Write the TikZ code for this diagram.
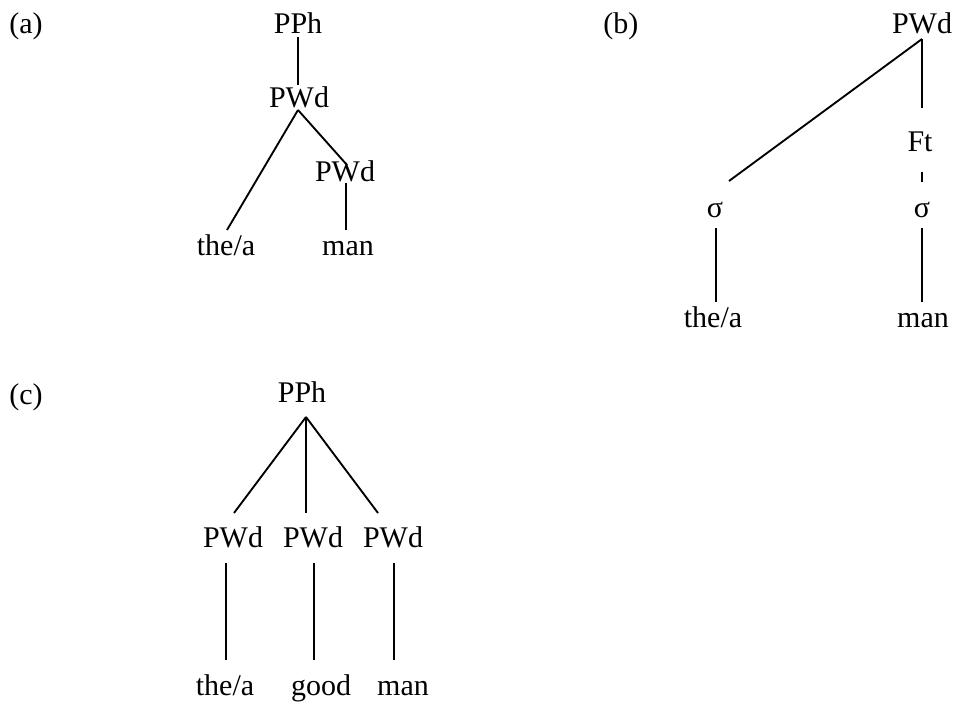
\documentclass[tikz,border=0pt]{standalone}
\usepackage{fontspec}
\setmainfont{Liberation Serif}
\usetikzlibrary{calc}
\begin{document}
\begin{tikzpicture}[x=0.75pt,y=-0.75pt,
  lbl/.style={inner sep=0pt,anchor=base,font=\fontsize{22.5}{27}\selectfont},
  tag/.style={lbl,anchor=base west},
  branch/.style={line width=1.4pt}]
\useasboundingbox (0,0) rectangle (955,702);

% ---- tree (a)
\node[tag] (labA) at (9,34) {(a)};
\node[lbl] (aPPh) at (298,34) {PPh};
\node[lbl] (aPW1) at (299,108) {PWd};
\node[lbl] (aPW2) at (345,182) {PWd};
\node[lbl] (aThe) at (226,255) {the/a};
\node[lbl] (aMan) at (348,255) {man};
\draw[branch] ($(aPPh.base)+(0,3)$) -- ($(aPW1.base)+(-1,-23)$);
\draw[branch] ($(aPW1.base)+(-1,2)$) -- ($(aThe.base)+(1,-25)$);
\draw[branch] ($(aPW1.base)+(-1,2)$) -- ($(aPW2.base)+(2,-17)$);
\draw[branch] ($(aPW2.base)+(1,1)$) -- ($(aMan.base)+(-2,-25)$);

% ---- tree (b)
\node[tag] (labB) at (603,34) {(b)};
\node[lbl] (bPWd) at (922,34) {PWd};
\node[lbl] (bFt) at (920,152) {Ft};
\node[lbl] (bS1) at (715,218) {σ};
\node[lbl] (bS2) at (922,218) {σ};
\node[lbl] (bThe) at (713,327) {the/a};
\node[lbl] (bMan) at (923,327) {man};
\draw[branch] ($(bPWd.base)+(0,5)$) -- ($(bS1.base)+(14,-37)$);
\draw[branch] ($(bPWd.base)+(0,5)$) -- ($(bFt.base)+(2,-44)$);
\draw[branch] ($(bFt.base)+(2,20)$) -- ($(bS2.base)+(0,-36)$);
\draw[branch] ($(bS1.base)+(1,10)$) -- ($(bThe.base)+(3,-25)$);
\draw[branch] ($(bS2.base)+(0,10)$) -- ($(bMan.base)+(-1,-25)$);

% ---- tree (c)
\node[tag] (labC) at (9,404) {(c)};
\node[lbl] (cPPh) at (302,402) {PPh};
\node[lbl] (cPW1) at (233,547) {PWd};
\node[lbl] (cPW2) at (313,547) {PWd};
\node[lbl] (cPW3) at (393,547) {PWd};
\node[lbl] (cThe) at (225,695) {the/a};
\node[lbl] (cGood) at (321,695) {good};
\node[lbl] (cMan) at (403,695) {man};
\draw[branch] ($(cPPh.base)+(4,15)$) -- ($(cPW1.base)+(1,-34)$);
\draw[branch] ($(cPPh.base)+(4,15)$) -- ($(cPW2.base)+(-7,-34)$);
\draw[branch] ($(cPPh.base)+(4,15)$) -- ($(cPW3.base)+(-15,-34)$);
\draw[branch] ($(cPW1.base)+(-7,16)$) -- ($(cThe.base)+(1,-35)$);
\draw[branch] ($(cPW2.base)+(1,16)$) -- ($(cGood.base)+(-7,-35)$);
\draw[branch] ($(cPW3.base)+(1,16)$) -- ($(cMan.base)+(-9,-35)$);
\end{tikzpicture}
\end{document}
